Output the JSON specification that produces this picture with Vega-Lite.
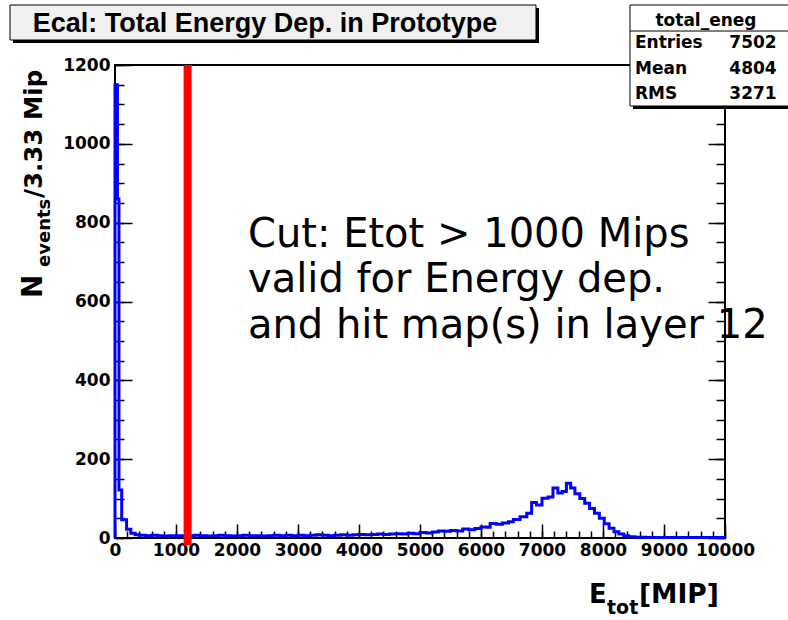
{
  "$schema": "https://vega.github.io/schema/vega-lite/v6.json",
  "width": 610,
  "height": 473,
  "autosize": {"type": "none"},
  "padding": {"left": 115, "top": 65, "right": 63, "bottom": 82},
  "background": "white",
  "config": {"view": {"stroke": "black", "strokeWidth": 2}},
  "datasets": {
    "hist": [
      {"e": 0, "n": 0}, {"e": 0, "n": 1150}, {"e": 40, "n": 860}, {"e": 65, "n": 122}, {"e": 110, "n": 46},
      {"e": 190, "n": 22}, {"e": 260, "n": 12}, {"e": 330, "n": 8}, {"e": 400, "n": 7}, {"e": 500, "n": 6},
      {"e": 600, "n": 7}, {"e": 700, "n": 6}, {"e": 800, "n": 5}, {"e": 900, "n": 6}, {"e": 1000, "n": 6},
      {"e": 1100, "n": 5}, {"e": 1200, "n": 6}, {"e": 1300, "n": 7}, {"e": 1400, "n": 6}, {"e": 1500, "n": 5},
      {"e": 1600, "n": 6}, {"e": 1700, "n": 7}, {"e": 1800, "n": 6}, {"e": 1900, "n": 5}, {"e": 2000, "n": 6},
      {"e": 2100, "n": 7}, {"e": 2200, "n": 6}, {"e": 2300, "n": 6}, {"e": 2400, "n": 5}, {"e": 2500, "n": 6},
      {"e": 2600, "n": 7}, {"e": 2700, "n": 6}, {"e": 2800, "n": 7}, {"e": 2900, "n": 6}, {"e": 3000, "n": 7},
      {"e": 3100, "n": 6}, {"e": 3200, "n": 7}, {"e": 3300, "n": 8}, {"e": 3400, "n": 7}, {"e": 3500, "n": 6},
      {"e": 3600, "n": 7}, {"e": 3700, "n": 8}, {"e": 3800, "n": 7}, {"e": 3900, "n": 8}, {"e": 4000, "n": 9},
      {"e": 4100, "n": 8}, {"e": 4200, "n": 9}, {"e": 4300, "n": 10}, {"e": 4400, "n": 9}, {"e": 4500, "n": 10},
      {"e": 4600, "n": 11}, {"e": 4700, "n": 10}, {"e": 4800, "n": 12}, {"e": 4900, "n": 11}, {"e": 5000, "n": 14},
      {"e": 5100, "n": 13}, {"e": 5200, "n": 15}, {"e": 5300, "n": 18}, {"e": 5400, "n": 17}, {"e": 5500, "n": 19},
      {"e": 5600, "n": 18}, {"e": 5700, "n": 23}, {"e": 5800, "n": 21}, {"e": 5900, "n": 24}, {"e": 6000, "n": 28},
      {"e": 6100, "n": 27}, {"e": 6150, "n": 37}, {"e": 6250, "n": 35}, {"e": 6350, "n": 38}, {"e": 6450, "n": 41},
      {"e": 6530, "n": 47}, {"e": 6640, "n": 54}, {"e": 6750, "n": 63}, {"e": 6830, "n": 90}, {"e": 6910, "n": 84},
      {"e": 7000, "n": 101}, {"e": 7100, "n": 104}, {"e": 7180, "n": 127}, {"e": 7260, "n": 114}, {"e": 7330, "n": 118},
      {"e": 7400, "n": 139}, {"e": 7470, "n": 127}, {"e": 7540, "n": 112}, {"e": 7620, "n": 100}, {"e": 7700, "n": 88},
      {"e": 7780, "n": 75}, {"e": 7860, "n": 63}, {"e": 7940, "n": 50}, {"e": 8020, "n": 36}, {"e": 8100, "n": 25},
      {"e": 8180, "n": 16}, {"e": 8260, "n": 10}, {"e": 8340, "n": 6}, {"e": 8420, "n": 3}, {"e": 8520, "n": 2},
      {"e": 8700, "n": 1}, {"e": 9200, "n": 1}, {"e": 10000, "n": 1}
    ]
  },
  "resolve": {"axis": {"x": "independent", "y": "independent"}},
  "layer": [
    {
      "data": {"name": "hist"},
      "mark": {"type": "point", "opacity": 0},
      "encoding": {
        "x": {"field": "e", "type": "quantitative",
          "scale": {"domain": [0, 10000], "nice": false, "zero": false},
          "axis": {"orient": "bottom", "values": [0, 200, 400, 600, 800, 1000, 1200, 1400, 1600, 1800, 2000, 2200, 2400, 2600, 2800, 3000, 3200, 3400, 3600, 3800, 4000, 4200, 4400, 4600, 4800, 5000, 5200, 5400, 5600, 5800, 6000, 6200, 6400, 6600, 6800, 7000, 7200, 7400, 7600, 7800, 8000, 8200, 8400, 8600, 8800, 9000, 9200, 9400, 9600, 9800, 10000],
            "ticks": false, "labels": false, "domain": false, "grid": true, "gridDash": [0, 466, 7, 2000], "gridColor": "black", "gridWidth": 1.5, "gridOpacity": 1, "title": null}},
        "y": {"field": "n", "type": "quantitative",
          "scale": {"domain": [0, 1200], "nice": false, "zero": false},
          "axis": {"orient": "right", "values": [0, 50, 100, 150, 200, 250, 300, 350, 400, 450, 500, 550, 600, 650, 700, 750, 800, 850, 900, 950, 1000, 1050, 1100, 1150, 1200],
            "ticks": false, "labels": false, "domain": false, "grid": true, "gridDash": [9, 592, 9, 2000], "gridColor": "black", "gridWidth": 1.5, "gridOpacity": 1, "title": null}}
      }
    },
    {
      "data": {"name": "hist"},
      "mark": {"type": "point", "opacity": 0},
      "encoding": {
        "x": {"field": "e", "type": "quantitative",
          "scale": {"domain": [0, 10000], "nice": false, "zero": false}, "axis": null},
        "y": {"field": "n", "type": "quantitative",
          "scale": {"domain": [0, 1200], "nice": false, "zero": false},
          "axis": {"orient": "right", "values": [0, 200, 400, 600, 800, 1000, 1200],
            "ticks": false, "labels": false, "domain": false, "grid": true, "gridDash": [17, 576, 17, 2000], "gridColor": "black", "gridWidth": 1.5, "gridOpacity": 1, "title": null}}
      }
    },
    {
      "data": {"name": "hist"},
      "mark": {"type": "line", "interpolate": "step-after", "color": "#0000ff", "strokeWidth": 3},
      "encoding": {
        "x": {"field": "e", "type": "quantitative",
          "scale": {"domain": [0, 10000], "nice": false, "zero": false},
          "axis": {"orient": "bottom", "values": [0, 1000, 2000, 3000, 4000, 5000, 6000, 7000, 8000, 9000, 10000],
            "format": "d", "ticks": false, "tickSize": 0, "domain": false, "grid": true, "gridDash": [0, 459, 14, 2000], "gridColor": "black", "gridWidth": 1.5, "gridOpacity": 1,
            "labelPadding": 4.5, "labelFont": "DejaVu Sans", "labelFontWeight": "bold", "labelFontSize": 17,
            "labelColor": "black", "labelFlush": false, "labelOverlap": false, "title": null}},
        "y": {"field": "n", "type": "quantitative",
          "scale": {"domain": [0, 1200], "nice": false, "zero": false},
          "axis": {"orient": "left", "values": [0, 200, 400, 600, 800, 1000, 1200],
            "format": "d", "ticks": false, "tickSize": 0, "domain": false, "grid": false,
            "labelPadding": 5, "labelFont": "DejaVu Sans", "labelFontWeight": "bold", "labelFontSize": 17,
            "labelColor": "black", "labelFlush": false, "labelOverlap": false, "title": null}}
      }
    },
    {
      "data": {"values": [{}]},
      "mark": {"type": "rule", "color": "#ff0000", "strokeWidth": 8},
      "encoding": {
        "x": {"datum": 1190, "type": "quantitative", "scale": {"domain": [0, 10000], "nice": false, "zero": false}, "axis": null},
        "y": {"datum": 1200, "type": "quantitative", "scale": {"domain": [0, 1200], "nice": false, "zero": false}, "axis": null},
        "y2": {"datum": -18}
      }
    },
    {
      "data": {"values": [{}]},
      "mark": {"type": "text", "font": "DejaVu Sans", "fontSize": 40, "align": "left", "baseline": "alphabetic", "lineHeight": 45.5, "color": "black"},
      "encoding": {
        "x": {"datum": 2180, "type": "quantitative", "scale": {"domain": [0, 10000], "nice": false, "zero": false}, "axis": null},
        "y": {"datum": 738.3, "type": "quantitative", "scale": {"domain": [0, 1200], "nice": false, "zero": false}, "axis": null},
        "text": {"value": ["Cut: Etot > 1000 Mips", "valid for Energy dep.", "and hit map(s) in layer 12"]}
      }
    },
    {
      "data": {"values": [{}]},
      "mark": {"type": "rect", "fill": "black"},
      "encoding": {
        "x": {"datum": -1672.1, "type": "quantitative", "scale": {"domain": [0, 10000], "nice": false, "zero": false}, "axis": null},
        "x2": {"datum": 6950.8},
        "y": {"datum": 1344.6, "type": "quantitative", "scale": {"domain": [0, 1200], "nice": false, "zero": false}, "axis": null},
        "y2": {"datum": 1255.8}
      }
    },
    {
      "data": {"values": [{}]},
      "mark": {"type": "rect", "fill": "#f0f0f0", "stroke": "black", "strokeWidth": 1},
      "encoding": {
        "x": {"datum": -1721.3, "type": "quantitative", "scale": {"domain": [0, 10000], "nice": false, "zero": false}, "axis": null},
        "x2": {"datum": 6901.6},
        "y": {"datum": 1352.2, "type": "quantitative", "scale": {"domain": [0, 1200], "nice": false, "zero": false}, "axis": null},
        "y2": {"datum": 1263.4}
      }
    },
    {
      "data": {"values": [{}]},
      "mark": {"type": "text", "font": "Liberation Sans", "fontWeight": "bold", "fontSize": 27, "align": "center", "baseline": "alphabetic", "color": "black"},
      "encoding": {
        "x": {"datum": 2459, "type": "quantitative", "scale": {"domain": [0, 10000], "nice": false, "zero": false}, "axis": null},
        "y": {"datum": 1283.7, "type": "quantitative", "scale": {"domain": [0, 1200], "nice": false, "zero": false}, "axis": null},
        "text": {"value": "Ecal: Total Energy Dep. in Prototype"}
      }
    },
    {
      "data": {"values": [{}]},
      "mark": {"type": "rect", "fill": "black"},
      "encoding": {
        "x": {"datum": 8491.8, "type": "quantitative", "scale": {"domain": [0, 10000], "nice": false, "zero": false}, "axis": null},
        "x2": {"datum": 11300},
        "y": {"datum": 1344.6, "type": "quantitative", "scale": {"domain": [0, 1200], "nice": false, "zero": false}, "axis": null},
        "y2": {"datum": 1088.4}
      }
    },
    {
      "data": {"values": [{}]},
      "mark": {"type": "rect", "fill": "white", "stroke": "black", "strokeWidth": 1},
      "encoding": {
        "x": {"datum": 8442.6, "type": "quantitative", "scale": {"domain": [0, 10000], "nice": false, "zero": false}, "axis": null},
        "x2": {"datum": 11300},
        "y": {"datum": 1352.2, "type": "quantitative", "scale": {"domain": [0, 1200], "nice": false, "zero": false}, "axis": null},
        "y2": {"datum": 1096}
      }
    },
    {
      "data": {"values": [{}]},
      "mark": {"type": "rule", "color": "black", "strokeWidth": 1},
      "encoding": {
        "x": {"datum": 8442.6, "type": "quantitative", "scale": {"domain": [0, 10000], "nice": false, "zero": false}, "axis": null},
        "x2": {"datum": 11300},
        "y": {"datum": 1286.2, "type": "quantitative", "scale": {"domain": [0, 1200], "nice": false, "zero": false}, "axis": null}
      }
    },
    {
      "data": {"values": [{}]},
      "mark": {"type": "text", "font": "DejaVu Sans", "fontWeight": "bold", "fontSize": 17, "align": "center", "baseline": "alphabetic", "color": "black"},
      "encoding": {
        "x": {"datum": 9688.5, "type": "quantitative", "scale": {"domain": [0, 10000], "nice": false, "zero": false}, "axis": null},
        "y": {"datum": 1297.7, "type": "quantitative", "scale": {"domain": [0, 1200], "nice": false, "zero": false}, "axis": null},
        "text": {"value": "total_eneg"}
      }
    },
    {
      "data": {"values": [{}]},
      "mark": {"type": "text", "font": "DejaVu Sans", "fontWeight": "bold", "fontSize": 17, "align": "left", "baseline": "alphabetic", "lineHeight": 25.4, "color": "black"},
      "encoding": {
        "x": {"datum": 8524.6, "type": "quantitative", "scale": {"domain": [0, 10000], "nice": false, "zero": false}, "axis": null},
        "y": {"datum": 1242.3, "type": "quantitative", "scale": {"domain": [0, 1200], "nice": false, "zero": false}, "axis": null},
        "text": {"value": ["Entries", "Mean", "RMS"]}
      }
    },
    {
      "data": {"values": [{}]},
      "mark": {"type": "text", "font": "DejaVu Sans", "fontWeight": "bold", "fontSize": 17, "align": "right", "baseline": "alphabetic", "lineHeight": 25.4, "color": "black"},
      "encoding": {
        "x": {"datum": 10847, "type": "quantitative", "scale": {"domain": [0, 10000], "nice": false, "zero": false}, "axis": null},
        "y": {"datum": 1242.3, "type": "quantitative", "scale": {"domain": [0, 1200], "nice": false, "zero": false}, "axis": null},
        "text": {"value": ["7502", "4804", "3271"]}
      }
    },
    {
      "data": {"values": [{}]},
      "mark": {"type": "text", "font": "DejaVu Sans", "fontWeight": "bold", "fontSize": 26, "align": "left", "baseline": "alphabetic", "color": "black"},
      "encoding": {
        "x": {"datum": 7770.5, "type": "quantitative", "scale": {"domain": [0, 10000], "nice": false, "zero": false}, "axis": null},
        "y": {"datum": -164.9, "type": "quantitative", "scale": {"domain": [0, 1200], "nice": false, "zero": false}, "axis": null},
        "text": {"value": "E"}
      }
    },
    {
      "data": {"values": [{}]},
      "mark": {"type": "text", "font": "DejaVu Sans", "fontWeight": "bold", "fontSize": 19, "align": "left", "baseline": "alphabetic", "color": "black"},
      "encoding": {
        "x": {"datum": 8065.6, "type": "quantitative", "scale": {"domain": [0, 10000], "nice": false, "zero": false}, "axis": null},
        "y": {"datum": -193, "type": "quantitative", "scale": {"domain": [0, 1200], "nice": false, "zero": false}, "axis": null},
        "text": {"value": "tot"}
      }
    },
    {
      "data": {"values": [{}]},
      "mark": {"type": "text", "font": "DejaVu Sans", "fontWeight": "bold", "fontSize": 26.5, "align": "left", "baseline": "alphabetic", "color": "black"},
      "encoding": {
        "x": {"datum": 8590, "type": "quantitative", "scale": {"domain": [0, 10000], "nice": false, "zero": false}, "axis": null},
        "y": {"datum": -164.9, "type": "quantitative", "scale": {"domain": [0, 1200], "nice": false, "zero": false}, "axis": null},
        "text": {"value": "[MIP]"}
      }
    },
    {
      "data": {"values": [{}]},
      "mark": {"type": "text", "font": "DejaVu Sans", "fontWeight": "bold", "fontSize": 28, "align": "left", "baseline": "alphabetic", "angle": 270, "color": "black"},
      "encoding": {
        "x": {"datum": -1196.7, "type": "quantitative", "scale": {"domain": [0, 10000], "nice": false, "zero": false}, "axis": null},
        "y": {"datum": 608.9, "type": "quantitative", "scale": {"domain": [0, 1200], "nice": false, "zero": false}, "axis": null},
        "text": {"value": "N"}
      }
    },
    {
      "data": {"values": [{}]},
      "mark": {"type": "text", "font": "DejaVu Sans", "fontWeight": "bold", "fontSize": 18, "align": "left", "baseline": "alphabetic", "angle": 270, "color": "black"},
      "encoding": {
        "x": {"datum": -1066, "type": "quantitative", "scale": {"domain": [0, 10000], "nice": false, "zero": false}, "axis": null},
        "y": {"datum": 687.5, "type": "quantitative", "scale": {"domain": [0, 1200], "nice": false, "zero": false}, "axis": null},
        "text": {"value": "events"}
      }
    },
    {
      "data": {"values": [{}]},
      "mark": {"type": "text", "font": "DejaVu Sans", "fontWeight": "bold", "fontSize": 24.5, "align": "left", "baseline": "alphabetic", "angle": 270, "color": "black"},
      "encoding": {
        "x": {"datum": -1196.7, "type": "quantitative", "scale": {"domain": [0, 10000], "nice": false, "zero": false}, "axis": null},
        "y": {"datum": 862.6, "type": "quantitative", "scale": {"domain": [0, 1200], "nice": false, "zero": false}, "axis": null},
        "text": {"value": "/3.33 Mip"}
      }
    }
  ]
}
